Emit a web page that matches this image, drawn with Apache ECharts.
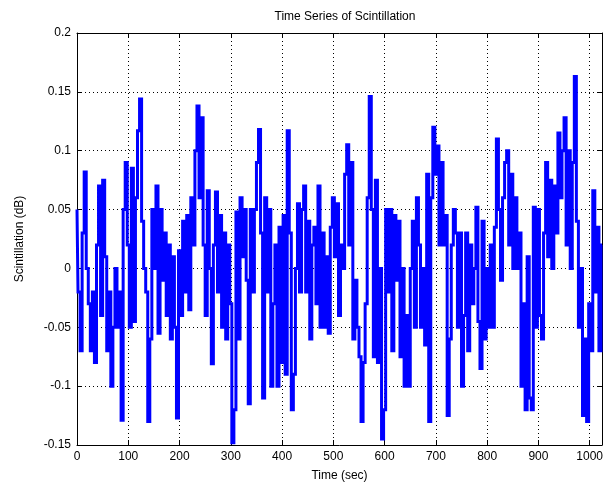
<!DOCTYPE html>
<html>
<head>
<meta charset="utf-8">
<script src="https://cdn.jsdelivr.net/npm/echarts@6/dist/echarts.min.js"></script>
<style>html,body{margin:0;padding:0;background:#fff}#c{width:607px;height:496px}</style>
</head>
<body>
<div id="c"></div>
<script>
// time step of the sampled values (seconds)
var stepSec = 4;
// Scintillation values (dB), every 4 s, t = 0 .. 1024
var vals0 = [0.05,-0.02,-0.07,0.03,0.082,0.0,-0.03,-0.07,-0.02,-0.08,0.02,0.07,-0.04,0.075,0.01,-0.07,-0.02,-0.1,-0.05,0.0,-0.05,-0.02,-0.129,0.05,0.09];
var vals1 = [0.02,-0.05,0.085,-0.045,0.06,0.117,0.144,0.04,0.0,-0.02,-0.13,-0.06,0.05,0.0,0.07,-0.055,0.05,-0.01,0.03,-0.04,0.02,-0.06,0.01,-0.05,-0.127];
var vals2 = [0.015,-0.04,0.04,-0.02,0.045,-0.035,0.06,0.02,0.1,0.138,0.06,0.128,0.02,-0.04,0.066,0.0,-0.081,0.02,0.065,-0.02,0.045,-0.05,0.03,-0.06,0.02];
var vals3 = [-0.03,-0.148,-0.12,0.048,-0.06,0.06,0.01,0.05,-0.01,-0.115,0.05,-0.02,0.05,0.09,0.118,0.03,-0.11,0.06,-0.02,0.05,-0.1,-0.03,0.02,-0.1,0.035];
var vals4 = [-0.08,0.045,-0.09,0.117,0.03,-0.12,-0.09,0.0,0.055,-0.02,0.05,0.07,-0.02,0.04,-0.06,0.02,0.035,-0.03,0.07,-0.05,0.03,-0.05,0.01,-0.055,0.035];
var vals5 = [0.06,0.01,0.055,-0.04,0.02,0.0,0.08,0.105,0.02,0.09,-0.06,-0.01,-0.05,-0.075,-0.13,-0.08,-0.03,0.06,0.146,0.05,-0.075,0.075,-0.08,0.0,-0.145];
var vals6 = [-0.12,0.05,-0.02,0.05,-0.07,0.045,-0.01,0.04,-0.075,0.0,-0.1,-0.04,-0.1,0.0,0.04,-0.05,0.06,0.02,-0.05,0.0,-0.065,0.08,-0.13,0.06,0.12];
var vals7 = [0.08,0.104,0.02,0.09,0.02,0.045,-0.125,-0.06,0.02,0.05,0.03,-0.05,0.03,-0.1,-0.04,0.03,-0.07,0.02,-0.03,0.0,0.052,-0.045,-0.085,0.04,-0.06];
var vals8 = [0.0,-0.05,0.02,-0.05,0.035,0.11,0.05,-0.01,0.06,0.09,0.1,0.02,0.08,0.0,0.06,0.0,0.03,-0.1,-0.03,-0.12,0.01,-0.11,-0.12,0.052,-0.05];
var vals9 = [0.05,-0.04,-0.06,0.03,0.09,0.01,0.075,0.0,0.07,0.03,0.115,0.06,0.1,0.128,0.02,0.1,0.0,0.09,0.163,0.04,-0.05,0.0,-0.125,-0.06,-0.13];
var vals10 = [-0.03,-0.07,0.066,-0.02,0.035,-0.07,0.02];

var xTicks = [0,100,200,300,400,500,600,700,800,900,1000];
var yTicks = [-0.15,-0.1,-0.05,0,0.05,0.1,0.15,0.2];

var allVals = [].concat(vals0,vals1,vals2,vals3,vals4,vals5,vals6,vals7,vals8,vals9,vals10);
var data = allVals.map(function(v,i){return [i*stepSec, v];});

var font = 'Liberation Sans, Arial, sans-serif';
var chart = echarts.init(document.getElementById('c'), null, {renderer:'canvas'});
var axisCommon = {
  axisLine:{show:true,onZero:false,lineStyle:{color:'#000',width:1}},
  axisTick:{show:true,inside:true,length:5,lineStyle:{color:'#000'}},
};
chart.setOption({
  animation:false,
  backgroundColor:'#fff',
  title:{text:'Time Series of Scintillation',left:340,top:6,textAlign:'center',
    textStyle:{fontFamily:font,fontSize:12,fontWeight:'normal',color:'#000'}},
  grid:{left:77,top:33,width:525,height:412,show:false},
  xAxis:[
    Object.assign({type:'value',min:0,max:1024,interval:100,position:'bottom',
      name:'Time (sec)',nameLocation:'middle',nameGap:25,
      nameTextStyle:{fontFamily:font,fontSize:12,color:'#000'},
      axisLabel:{fontFamily:font,fontSize:12,color:'#000',margin:6,
        formatter:function(v){return xTicks.indexOf(v)>=0?String(v):'';}},
      splitLine:{show:true,lineStyle:{color:'#000',type:[1,3],width:1}}},axisCommon),
    Object.assign({type:'value',min:0,max:1024,interval:100,position:'top',
      axisLabel:{show:false},splitLine:{show:false}},axisCommon)
  ],
  yAxis:[
    Object.assign({type:'value',min:-0.15,max:0.2,interval:0.05,position:'left',
      name:'Scintillation (dB)',nameLocation:'middle',nameGap:51,nameRotate:90,
      nameTextStyle:{fontFamily:font,fontSize:12,color:'#000'},
      axisLabel:{fontFamily:font,fontSize:12,color:'#000',margin:6,
        formatter:function(v){var r=Math.round(v*100)/100;return String(r);}},
      splitLine:{show:true,lineStyle:{color:'#000',type:[1,3],width:1}}},axisCommon),
    Object.assign({type:'value',min:-0.15,max:0.2,interval:0.05,position:'right',
      axisLabel:{show:false},splitLine:{show:false}},axisCommon)
  ],
  series:[{type:'line',data:data,showSymbol:false,symbol:'none',step:'middle',
    lineStyle:{color:'#0000ff',width:3,join:'miter'},z:5}]
});
</script>
</body>
</html>
